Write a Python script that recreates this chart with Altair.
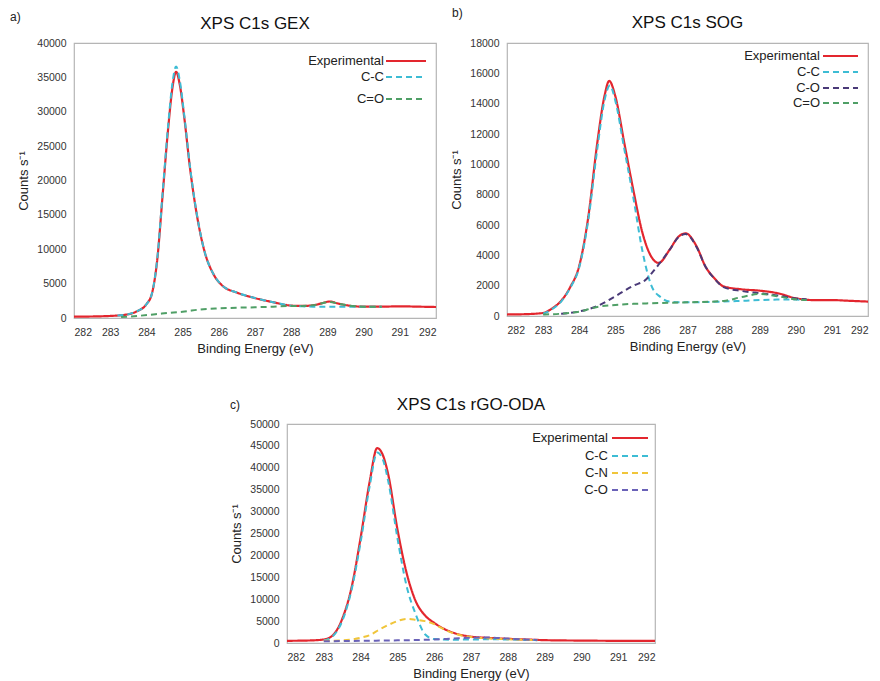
import altair as alt
import pandas as pd

FONT = "Liberation Sans"

# Colours of the traces
RED = "#e3262e"
CYAN = "#3dbcd4"
PURPLE = "#4a3a78"
GREEN = "#4f9f66"
YELLOW = "#f0c53a"
VIOLET = "#6a62b8"

# ---------------- a) GEX ----------------
gex_e = [282, 282.5, 283, 283.25, 283.5, 283.75, 284, 284.15, 284.3, 284.45, 284.6,
         284.72, 284.82, 284.92, 285.05, 285.2, 285.4, 285.6, 285.85, 286.1, 286.5,
         287, 287.5, 288, 288.3, 288.6, 288.85, 289.05, 289.3, 289.6, 290, 290.5,
         291, 291.5, 292]
gex_exp = [200, 220, 300, 380, 550, 1000, 2000, 3500, 8500, 18000, 27500,
           33500, 35800, 34000, 29000, 22000, 14800, 9800, 6400, 4700, 3700,
           2900, 2300, 1800, 1750, 1850, 2150, 2400, 2100, 1800, 1650, 1650,
           1700, 1650, 1600]
gex_cc_e = [283.2, 283.5, 283.75, 284, 284.15, 284.3, 284.45, 284.6, 284.72, 284.82,
            284.92, 285.05, 285.2, 285.4, 285.6, 285.85, 286.1, 286.5, 287, 287.5,
            288, 288.3, 288.6, 289, 289.5, 290, 290.5]
gex_cc = [350, 550, 1000, 2000, 3500, 8600, 18300, 28000, 34200, 36600,
          34600, 29300, 22200, 14900, 9800, 6400, 4700, 3700, 2900, 2300,
          1800, 1700, 1650, 1650, 1650, 1650, 1650]
gex_co_e = [283.3, 283.75, 284.25, 284.75, 285, 285.5, 286, 286.5, 287, 287.5, 288,
            288.3, 288.6, 288.85, 289.05, 289.3, 289.6, 290, 290.5]
gex_co = [150, 300, 550, 800, 900, 1250, 1400, 1500, 1560, 1650, 1750,
          1760, 1850, 2150, 2350, 2100, 1800, 1650, 1650]

# ---------------- b) SOG ----------------
sog_e = [282, 282.5, 283, 283.25, 283.5, 283.75, 284, 284.25, 284.5, 284.7, 284.83,
         285, 285.25, 285.5, 285.75, 286, 286.2, 286.5, 286.75, 286.95, 287.25,
         287.5, 287.75, 288, 288.5, 289, 289.5, 290, 290.5, 291, 291.5, 292]
sog_exp = [100, 120, 200, 500, 1000, 1900, 3300, 6500, 11400, 14500, 15500,
           14500, 11400, 8300, 5500, 3900, 3500, 4350, 5230, 5450, 4600,
           3250, 2480, 1950, 1760, 1670, 1500, 1170, 1050, 1050, 1000, 950]
sog_cc_e = [283, 283.25, 283.5, 283.75, 284, 284.25, 284.5, 284.7, 284.85, 285,
            285.25, 285.5, 285.75, 286, 286.25, 286.5, 287, 287.5, 288, 288.5,
            289, 289.5, 290, 290.3]
sog_cc = [150, 450, 950, 1850, 3200, 6300, 11000, 14200, 15200, 14200,
          11000, 7800, 4300, 2000, 1250, 950, 900, 920, 950, 1000,
          1050, 1080, 1080, 1050]
sog_cox_e = [283.5, 284, 284.5, 285, 285.5, 285.85, 286, 286.3, 286.5, 286.75,
             286.95, 287.25, 287.5, 287.75, 288, 288.5, 289, 289.5, 290, 290.3]
sog_cox = [150, 300, 650, 1300, 2000, 2400, 2800, 3700, 4350, 5200,
           5400, 4550, 3250, 2450, 1900, 1650, 1500, 1350, 1150, 1100]
sog_co_e = [283, 283.5, 284, 284.5, 285, 285.5, 286, 287, 288, 288.5, 289,
            289.5, 290, 290.3]
sog_co = [100, 150, 290, 600, 730, 800, 840, 900, 990, 1250, 1450,
          1300, 1100, 1050]

# ---------------- c) rGO-ODA ----------------
oda_e = [282, 282.5, 283, 283.25, 283.5, 283.75, 284, 284.25, 284.45, 284.6, 284.75,
         285, 285.25, 285.5, 285.75, 286, 286.25, 286.5, 286.75, 287, 287.5, 288,
         288.5, 289, 290, 291, 292]
oda_exp = [500, 550, 800, 1800, 5500, 12500, 24000, 37000, 44500, 43000, 38500,
           26000, 16000, 9500, 6300, 4600, 3300, 2400, 1800, 1450, 1150, 950,
           800, 650, 550, 500, 500]
oda_cc_e = [283, 283.25, 283.5, 283.75, 284, 284.25, 284.45, 284.6, 284.75, 285,
            285.25, 285.5, 285.75, 286, 286.5, 287, 287.5, 288, 288.8]
oda_cc = [600, 1600, 5000, 12000, 23000, 36000, 43500, 42000, 37000, 24000,
          13000, 6500, 2000, 900, 750, 800, 850, 800, 650]
oda_cn_e = [283, 283.5, 284, 284.25, 284.5, 284.75, 285, 285.25, 285.5, 285.75,
            286, 286.25, 286.5, 286.75, 287, 287.5, 288, 288.8]
oda_cn = [500, 600, 1200, 1800, 3000, 4100, 5000, 5500, 5300, 5000,
          4300, 3200, 2300, 1700, 1350, 1050, 850, 650]
oda_co_e = [283, 284, 285, 286, 286.5, 287, 287.5, 288, 288.8]
oda_co = [400, 500, 600, 800, 1000, 1200, 1250, 1000, 700]

x_ticks = list(range(282, 293))

SOLID = [1, 0]
DASH = [6, 4]


def panel(letter, title, traces, ymax, ystep, w, h, leg, letter_xy, title_y):
    xs = alt.X("E:Q", title="Binding Energy (eV)",
               scale=alt.Scale(domain=[282, 292], nice=False, zero=False),
               axis=alt.Axis(values=x_ticks, format="d"))
    ys = alt.Y("v:Q", title="Counts s⁻¹",
               scale=alt.Scale(domain=[0, ymax], nice=False),
               axis=alt.Axis(values=list(range(0, ymax + 1, ystep)), format="d"))

    layers = []
    # measured spectrum first, fitted components drawn over it
    for i, (name, e, v, colr) in enumerate(traces):
        df = pd.DataFrame({"E": e, "v": v})
        layers.append(alt.Chart(df).mark_line(
            interpolate="monotone", color=colr,
            strokeWidth=2.2 if i == 0 else 2,
            strokeDash=SOLID if i == 0 else DASH,
        ).encode(x=xs, y=ys))

    # legend: labels on the left, line samples on the right
    tx, x1, x2, rows = leg
    for i, ((name, _, _, colr), yy) in enumerate(zip(traces, rows)):
        one = pd.DataFrame({"label": [name]})
        layers.append(alt.Chart(one).mark_text(
            align="right", baseline="middle", font=FONT, fontSize=13, color="#222"
        ).encode(x=alt.value(tx), y=alt.value(yy), text="label:N"))
        layers.append(alt.Chart(one).mark_rule(
            color=colr, strokeWidth=2, strokeDash=SOLID if i == 0 else DASH
        ).encode(x=alt.value(x1), x2=alt.value(x2), y=alt.value(yy)))

    # panel letter and heading
    layers.append(alt.Chart(pd.DataFrame({"t": [letter]})).mark_text(
        align="left", baseline="middle", font=FONT, fontSize=12, color="#222"
    ).encode(x=alt.value(letter_xy[0]), y=alt.value(letter_xy[1]), text="t:N"))
    layers.append(alt.Chart(pd.DataFrame({"t": [title]})).mark_text(
        align="center", baseline="middle", font=FONT, fontSize=17, color="#111"
    ).encode(x=alt.value(w / 2), y=alt.value(title_y), text="t:N"))

    return alt.layer(*layers).properties(width=w, height=h)


pa = panel("a)", "XPS C1s GEX",
           [("Experimental", gex_e, gex_exp, RED),
            ("C-C", gex_cc_e, gex_cc, CYAN),
            ("C=O", gex_co_e, gex_co, GREEN)],
           40000, 5000, 362, 275, (310, 312, 352, [18, 34, 56]), (-64, -26), -19)

pb = panel("b)", "XPS C1s SOG",
           [("Experimental", sog_e, sog_exp, RED),
            ("C-C", sog_cc_e, sog_cc, CYAN),
            ("C-O", sog_cox_e, sog_cox, PURPLE),
            ("C=O", sog_co_e, sog_co, GREEN)],
           18000, 2000, 361, 273, (313, 316, 351, [13, 29, 45, 60]), (-55, -30), -20)

pc = panel("c)", "XPS C1s rGO-ODA",
           [("Experimental", oda_e, oda_exp, RED),
            ("C-C", oda_cc_e, oda_cc, CYAN),
            ("C-N", oda_cn_e, oda_cn, YELLOW),
            ("C-O", oda_co_e, oda_co, VIOLET)],
           50000, 5000, 368, 219, (321, 325, 361, [14, 32, 49, 66]), (-57, -19), -19)

chart = alt.vconcat(
    alt.hconcat(pa, pb, spacing=9),
    pc,
    spacing=38,
    center=True,
).properties(
    padding={"left": 9, "top": 6, "right": 0, "bottom": 0},
    background="white",
).configure_view(
    stroke="#b5b5b5", strokeWidth=1.2
).configure_axis(
    domain=False, ticks=False, grid=False,
    labelFont=FONT, labelFontSize=10.5, labelColor="#333",
    titleFont=FONT, titleFontSize=13, titleFontWeight="normal", titleColor="#222",
).configure_axisX(
    labelPadding=9, titlePadding=5,
).configure_axisY(
    labelPadding=8, titlePadding=6,
)

chart.save("out.html", embed_options={"renderer": "svg", "actions": False})
